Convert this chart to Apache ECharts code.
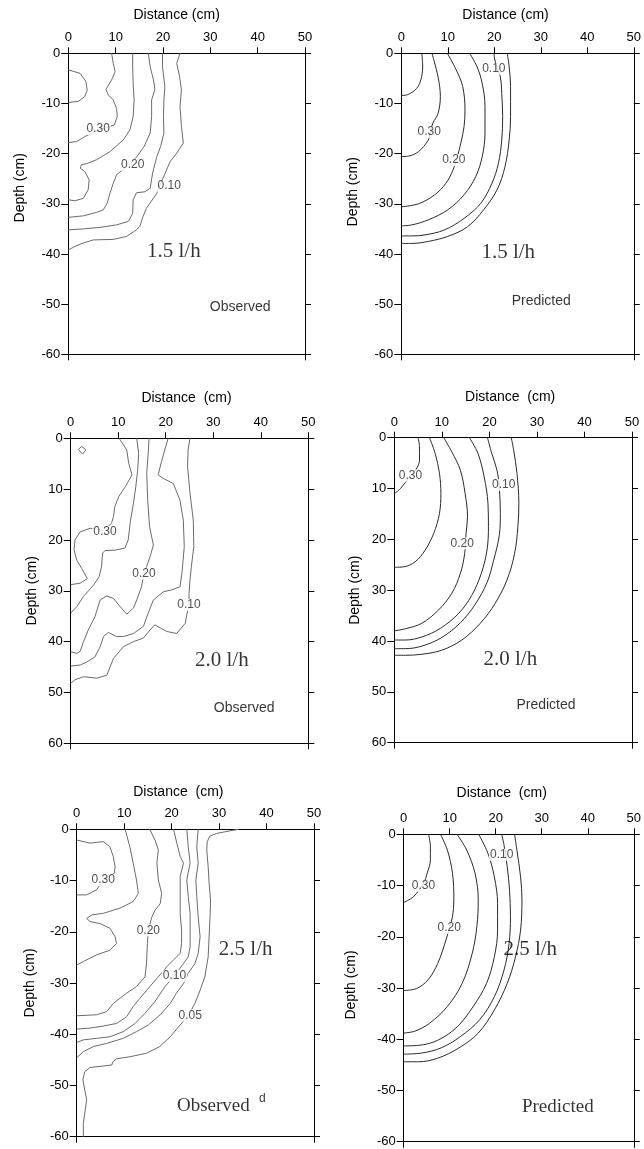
<!DOCTYPE html>
<html><head><meta charset="utf-8">
<script src="https://cdn.jsdelivr.net/npm/echarts@6/dist/echarts.min.js"></script>
<style>html,body{margin:0;padding:0;background:#fff}#c{width:644px;height:1149px}</style>
</head><body><div id="c"></div>
<script>
// ---------- tick values ----------
const distanceTicks = [0, 10, 20, 30, 40, 50];
const depthTicksNeg = [0, -10, -20, -30, -40, -50, -60];
const depthTicksPos = [0, 10, 20, 30, 40, 50, 60];

// ---------- Panel 1: 1.5 l/h observed ----------
const obs15_a = [[0,-3.3],[2.5,-4.0],[3.7,-5.6],[4.0,-7.3],[3.5,-8.6],[2.1,-9.6],[0,-9.8]];
const obs15_b = [[9.15,0],[9.5,-2.0],[9.9,-3.65],[9.15,-5.3],[7.96,-7.2],[8.45,-8.3],[9.5,-9.3],[10.2,-11.0],[10.35,-12.6],[9.7,-14.3],[6.3,-15.3],[3.5,-16.6],[1.76,-17.6],[0,-17.8]];
const obs15_c = [[13.6,0],[13.6,-2.7],[13.7,-6.0],[13.9,-9.3],[13.7,-12.6],[13.0,-15.3],[11.6,-17.3],[8.8,-19.6],[6.0,-21.2],[3.9,-22.0],[2.8,-22.2],[2.5,-22.9],[3.5,-23.6],[4.4,-25.2],[4.2,-27.2],[3.2,-28.9],[1.4,-29.4],[0,-29.2]];
const obs15_d = [[16.9,0],[17.3,-2.7],[18.0,-5.3],[18.3,-7.2],[17.6,-9.3],[17.6,-12.6],[17.3,-15.9],[16.0,-18.6],[14.4,-20.7],[12.6,-22.4],[10.2,-24.2],[9.5,-25.9],[8.8,-27.9],[8.2,-29.9],[7.4,-31.2],[6.0,-31.7],[3.2,-32.4],[0,-32.7]];
const obs15_e = [[19.9,0],[19.9,-2.7],[20.4,-6.6],[20.2,-9.3],[20.1,-12.6],[20.2,-15.9],[19.5,-18.6],[18.7,-20.6],[17.8,-23.9],[17.3,-26.9],[16.2,-27.6],[14.4,-27.8],[13.7,-29.2],[13.6,-31.9],[12.7,-33.5],[10.2,-34.2],[6.7,-34.7],[3.2,-35.0],[0,-35.2]];
const obs15_f = [[23.6,0],[22.9,-2.0],[23.5,-4.6],[23.9,-7.3],[23.6,-10.6],[23.9,-14.6],[24.3,-17.9],[22.9,-19.9],[21.5,-21.6],[20.6,-23.6],[19.6,-25.8],[18.7,-27.9],[16.5,-30.9],[15.8,-32.5],[15.1,-34.5],[14.4,-35.2],[12.3,-36.5],[9.5,-37.1],[5.3,-37.2],[3.2,-37.8],[1.4,-38.5],[0,-39.2]];
const obs15_labels = [['0.30',6.3,-15.1],['0.20',13.6,-22.2],['0.10',21.3,-26.4]];
const obs15_text = [['1.5 l/h',22.3,-39.6],['Observed',36.3,-50.5]];

// ---------- Panel 2: 1.5 l/h predicted ----------
const pre15_a = [[4.4,0],[4.6,-2.7],[4.2,-5.3],[3.3,-7.0],[1.5,-8.2],[0,-8.4]];
const pre15_b = [[6.6,0],[7.9,-4.7],[8.4,-8.6],[7.9,-12.0],[6.8,-13.9],[6.2,-15.7],[5.8,-17.3],[3.7,-19.6],[1.5,-20.5],[0,-20.6]];
const pre15_c = [[9.9,0],[11.8,-3.3],[13.2,-6.6],[13.7,-11.3],[13.5,-14.6],[12.8,-17.9],[12.0,-20.8],[11.1,-23.3],[9.6,-25.9],[7.2,-28.2],[3.7,-30.0],[0,-30.6]];
const pre15_d = [[14.7,0],[16.3,-2.7],[17.4,-6.0],[18.0,-10.6],[18.0,-15.9],[17.4,-20.6],[16.0,-24.6],[13.5,-28.2],[10.0,-31.2],[5.8,-33.2],[2.3,-34.2],[0,-34.4]];
const pre15_e = [[19.9,0],[20.4,-2.5],[21.3,-4.7],[21.6,-8.0],[21.8,-12.6],[21.6,-17.3],[20.9,-21.9],[19.5,-25.9],[17.1,-29.9],[13.5,-32.9],[9.3,-35.2],[5.1,-36.2],[2.3,-36.4],[0,-36.4]];
const pre15_f = [[22.8,0],[23.2,-2.7],[23.5,-6.6],[23.5,-12.6],[23.2,-17.3],[22.3,-22.6],[20.6,-27.2],[17.7,-31.2],[14.2,-34.6],[10.0,-36.5],[5.8,-37.5],[2.3,-37.9],[0,-37.9]];
const pre15_labels = [['0.30',6.0,-15.7],['0.20',11.3,-21.3],['0.10',19.9,-3.1]];
const pre15_text = [['1.5 l/h',23.0,-39.7],['Predicted',30.1,-49.5]];

// ---------- Panel 3: 2.0 l/h observed (depth positive downward) ----------
const obs20_a = [[1.6,2.2],[2.3,1.6],[3.2,2.3],[2.5,3.1],[1.6,2.2]];
const obs20_b = [[10.2,0],[11.8,2.3],[12.2,4.9],[12.9,7.2],[11.5,9.5],[10.1,11.5],[9.3,13.4],[9.0,15.4],[8.6,16.7],[7.0,18.1],[4.1,17.7],[2.0,18.4],[0.9,20.0],[0.7,22.0],[1.3,24.0],[2.3,25.6],[3.5,27.6],[2.0,28.5],[0,28.8]];
const obs20_c = [[13.9,0],[14.3,3.0],[14.1,6.2],[13.7,9.5],[13.2,12.8],[12.6,16.1],[12.1,20.0],[11.4,21.6],[9.3,22.0],[7.2,22.1],[6.7,22.6],[6.5,25.2],[6.0,27.2],[4.8,28.9],[2.7,31.1],[1.3,33.1],[0,34.4]];
const obs20_d = [[16.5,0],[16.3,3.0],[16.0,6.9],[16.2,12.1],[16.6,17.4],[17.4,21.0],[16.7,23.3],[16.0,25.2],[15.4,26.6],[14.9,29.2],[13.9,31.8],[13.2,33.4],[11.8,34.6],[10.4,33.1],[9.0,31.5],[7.6,31.0],[6.2,31.8],[5.1,35.1],[3.7,37.7],[2.7,40.0],[2.0,41.9],[1.3,42.3],[0,42.0]];
const obs20_e = [[20.5,0],[19.8,2.3],[19.1,4.6],[18.4,7.2],[19.5,7.9],[21.6,8.9],[23.0,12.2],[23.7,16.1],[23.9,21.3],[23.4,26.6],[23.0,29.2],[21.3,29.8],[19.5,30.2],[17.4,31.8],[16.3,34.4],[15.3,37.0],[13.2,38.4],[11.1,39.0],[9.7,39.0],[7.9,38.2],[6.9,39.0],[6.2,41.0],[5.1,43.0],[3.4,44.0],[2.0,44.6],[0,44.8]];
const obs20_f = [[25.1,0],[24.7,2.3],[24.6,5.6],[25.1,10.8],[25.8,16.1],[25.9,21.3],[25.4,25.2],[25.1,27.9],[24.9,30.5],[24.9,32.8],[24.4,34.8],[24.1,36.4],[22.3,38.4],[20.2,38.0],[17.7,36.7],[16.7,37.7],[15.3,39.3],[13.2,40.0],[11.1,41.0],[9.0,43.3],[7.6,46.6],[5.5,47.2],[2.7,46.9],[0.9,47.5],[0,48.2]];
const obs20_labels = [['0.30',7.2,18.4],['0.20',15.4,26.6],['0.10',24.9,32.8]];
const obs20_text = [['2.0 l/h',31.8,43.7],['Observed',36.5,53.0]];

// ---------- Panel 4: 2.0 l/h predicted ----------
const pre20_a = [[5.0,0],[5.3,1.8],[5.3,4.4],[4.6,6.2],[3.4,7.5],[1.3,10.0],[0,11.0]];
const pre20_b = [[7.4,0],[8.6,3.1],[9.5,7.0],[9.8,11.0],[9.5,14.9],[8.3,18.8],[6.5,22.1],[4.4,24.4],[2.0,25.4],[0,25.5]];
const pre20_c = [[10.4,0],[12.1,2.8],[13.9,6.4],[14.9,11.0],[15.4,15.5],[15.1,18.8],[14.8,22.8],[13.9,26.7],[12.1,30.6],[9.3,33.9],[5.8,36.5],[2.7,37.5],[0,38.0]];
const pre20_d = [[15.8,0],[17.6,3.1],[18.9,7.7],[19.7,12.9],[19.8,17.5],[19.5,22.1],[18.3,26.7],[16.3,31.0],[13.5,34.6],[9.7,37.5],[5.8,39.2],[2.3,39.8],[0,39.8]];
const pre20_e = [[19.6,0],[20.5,3.1],[21.6,6.4],[22.1,10.0],[22.3,14.9],[22.1,19.1],[20.9,24.1],[19.5,28.5],[17.0,32.8],[13.9,36.4],[10.0,39.3],[5.8,41.0],[2.3,41.5],[0,41.5]];
const pre20_f = [[24.6,0],[25.1,2.4],[25.8,7.0],[26.2,12.9],[26.0,17.5],[25.3,22.8],[23.7,28.0],[21.2,32.6],[18.1,36.5],[14.2,39.8],[10.0,41.8],[5.8,42.6],[2.3,42.8],[0,42.8]];
const pre20_labels = [['0.30',3.4,7.5],['0.20',14.3,20.8],['0.10',23.0,9.3]];
const pre20_text = [['2.0 l/h',24.4,43.7],['Predicted',31.9,52.7]];

// ---------- Panel 5: 2.5 l/h observed ----------
const obs25_a = [[0,-2.1],[2.8,-2.7],[5.6,-2.4],[7.0,-3.4],[7.7,-5.3],[8.1,-7.3],[7.9,-8.6],[5.6,-9.9],[4.2,-11.8],[2.1,-12.8],[0,-12.8]];
const obs25_b = [[10.2,0],[11.2,-3.4],[11.9,-6.6],[12.6,-9.9],[13.0,-12.5],[11.9,-14.1],[9.1,-15.4],[5.6,-16.4],[3.2,-16.7],[2.1,-17.4],[2.8,-18.0],[4.9,-18.4],[7.0,-19.3],[8.1,-21.0],[8.4,-22.3],[7.0,-23.6],[4.2,-24.5],[1.4,-25.8],[0,-26.5]];
const obs25_c = [[15.4,0],[16.5,-2.1],[17.2,-4.0],[16.9,-6.6],[17.2,-9.9],[17.9,-12.5],[17.6,-14.5],[16.5,-15.8],[15.8,-17.2],[15.1,-19.7],[14.9,-22.3],[14.7,-26.2],[14.4,-28.8],[12.6,-30.7],[10.5,-32.0],[7.7,-34.0],[6.3,-35.6],[4.2,-36.2],[0,-36.4]];
const obs25_d = [[20.4,0],[21.1,-2.7],[21.8,-5.3],[22.5,-6.6],[21.8,-9.2],[21.8,-13.2],[21.8,-16.4],[22.1,-19.7],[22.1,-22.3],[21.8,-24.2],[20.4,-25.5],[19.0,-26.8],[17.2,-28.8],[15.4,-30.7],[13.3,-33.0],[11.9,-34.6],[10.5,-36.6],[8.4,-37.9],[5.6,-38.4],[2.8,-38.8],[0,-39.0]];
const obs25_e = [[23.2,0],[23.5,-3.4],[23.9,-6.6],[23.2,-9.9],[23.5,-13.1],[23.9,-16.4],[23.9,-19.7],[23.9,-22.9],[23.5,-24.9],[22.5,-26.2],[20.6,-28.6],[18.6,-30.7],[16.5,-33.6],[14.4,-35.9],[12.3,-37.9],[9.8,-39.5],[7.0,-40.5],[4.2,-40.8],[1.4,-41.1],[0,-41.6]];
const obs25_f = [[25.6,0],[25.3,-3.4],[25.6,-6.6],[25.1,-9.9],[25.3,-13.1],[25.6,-17.1],[26.0,-21.0],[25.6,-24.2],[24.9,-26.2],[23.5,-28.1],[22.5,-30.1],[21.0,-32.0],[19.7,-34.0],[17.6,-36.2],[15.1,-38.2],[12.6,-39.5],[9.8,-40.8],[6.3,-41.8],[3.5,-42.4],[1.4,-43.4],[0,-44.6]];
const obs25_g = [[34.1,0],[32.3,-0.3],[29.5,-0.8],[28.1,-1.3],[27.5,-2.4],[27.4,-4.0],[27.7,-7.3],[27.9,-10.5],[28.2,-13.8],[28.1,-17.0],[27.9,-20.9],[27.7,-24.9],[27.0,-28.8],[26.0,-31.4],[24.9,-34.0],[23.6,-36.2],[21.8,-38.2],[19.7,-40.5],[17.5,-42.4],[14.7,-43.7],[11.2,-44.4],[8.4,-44.8],[7.6,-45.4],[7.4,-46.0],[5.6,-46.2],[2.8,-46.5],[1.7,-47.3],[1.3,-48.9],[1.7,-50.9],[2.1,-52.8],[1.7,-55.4],[1.4,-57.4],[1.4,-60]];
const obs25_labels = [['0.30',5.6,-9.9],['0.20',15.1,-19.7],['0.10',20.6,-28.6],['0.05',23.9,-36.3]];
const obs25_text = [['2.5 l/h',35.6,-23.4],['Observed',28.8,-54.1],['d',39.1,-52.5]];

// ---------- Panel 6: 2.5 l/h predicted ----------
const pre25_a = [[5.4,0],[5.8,-2.4],[5.8,-5.0],[5.1,-7.6],[4.3,-9.6],[2.1,-12.2],[0,-13.3]];
const pre25_b = [[8.0,0],[9.5,-3.1],[10.6,-7.6],[10.9,-12.8],[10.6,-16.1],[9.9,-18.3],[9.2,-20.6],[7.4,-25.2],[5.3,-28.4],[2.8,-30.1],[0,-30.5]];
const pre25_c = [[11.6,0],[13.7,-3.1],[15.5,-7.6],[16.2,-12.8],[15.9,-18.0],[14.9,-23.2],[12.7,-29.1],[9.5,-33.6],[5.6,-36.9],[2.5,-38.4],[0,-38.8]];
const pre25_d = [[16.3,0],[18.3,-3.7],[19.7,-8.3],[20.4,-13.5],[20.4,-18.7],[19.7,-23.9],[18.0,-29.1],[15.1,-33.6],[11.6,-37.6],[7.4,-40.2],[3.2,-41.2],[0,-41.3]];
const pre25_e = [[21.3,0],[21.8,-2.1],[22.5,-6.3],[23.0,-10.9],[23.2,-16.1],[22.9,-21.3],[21.8,-26.5],[19.7,-31.7],[16.5,-36.2],[12.3,-39.5],[8.1,-41.7],[3.9,-42.7],[0,-42.9]];
const pre25_f = [[24.1,0],[24.6,-3.1],[25.4,-8.3],[25.7,-12.8],[25.4,-18.7],[24.3,-23.9],[22.5,-29.1],[19.7,-34.3],[16.2,-38.8],[12.0,-41.7],[7.4,-43.7],[3.2,-44.4],[0,-44.4]];
const pre25_labels = [['0.30',4.3,-10.1],['0.20',9.9,-18.3],['0.10',21.3,-4.0]];
const pre25_text = [['2.5 l/h',27.5,-22.4],['Predicted',33.5,-53.3]];

// ---------- assembly ----------
const SANS = 'Liberation Sans, Arial, sans-serif';
const SERIF = 'Liberation Serif, Times New Roman, serif';
const OBS = '#6b6b6b', PRE = '#2a2a2a';

const panels = [
  {lines:[obs15_a,obs15_b,obs15_c,obs15_d,obs15_e,obs15_f], labels:obs15_labels, text:obs15_text, color:OBS, smooth:false, neg:true,
   box:{left:68.3,top:53.3,width:236.7,height:301}, dName:'Distance (cm)', dGap:31, dPad:[0,20,0,0], zGap:41, zPad:[0,0,0,32], serifNote:false},
  {lines:[pre15_a,pre15_b,pre15_c,pre15_d,pre15_e,pre15_f], labels:pre15_labels, text:pre15_text, color:PRE, smooth:0.35, neg:true,
   box:{left:401.3,top:53.3,width:236.7,height:301}, dName:'Distance (cm)', dGap:31, dPad:[0,24,0,0], zGap:41, zPad:[0,0,0,24], serifNote:false},
  {lines:[obs20_a,obs20_b,obs20_c,obs20_d,obs20_e,obs20_f], labels:obs20_labels, text:obs20_text, color:OBS, smooth:false, neg:false,
   box:{left:70.7,top:438.3,width:237.6,height:305}, dName:'Distance  (cm)', dGap:33, dPad:[0,6,0,0], zGap:32, zPad:[0,0,0,0], serifNote:false},
  {lines:[pre20_a,pre20_b,pre20_c,pre20_d,pre20_e,pre20_f], labels:pre20_labels, text:pre20_text, color:PRE, smooth:0.35, neg:false,
   box:{left:394.3,top:437.7,width:237.7,height:305}, dName:'Distance  (cm)', dGap:34, dPad:[0,6,0,0], zGap:32, zPad:[0,0,0,0], serifNote:false},
  {lines:[obs25_a,obs25_b,obs25_c,obs25_d,obs25_e,obs25_f,obs25_g], labels:obs25_labels, text:obs25_text, color:OBS, smooth:false, neg:true,
   box:{left:76.7,top:829.3,width:237.3,height:307.4}, dName:'Distance  (cm)', dGap:30, dPad:[0,34,0,0], zGap:40, zPad:[0,0,0,0], serifNote:true},
  {lines:[pre25_a,pre25_b,pre25_c,pre25_d,pre25_e,pre25_f], labels:pre25_labels, text:pre25_text, color:PRE, smooth:0.35, neg:true,
   box:{left:403.7,top:834.3,width:236.6,height:307.4}, dName:'Distance  (cm)', dGap:34, dPad:[0,34,0,0], zGap:46, zPad:[0,0,0,6], serifNote:true}
];

const grid = [], xAxis = [], yAxis = [], series = [];
const axisLineStyle = {show:true, onZero:false, lineStyle:{color:'#000', width:1}};
panels.forEach((p, i) => {
  grid.push(Object.assign({containLabel:false}, p.box));
  xAxis.push({type:'value', gridIndex:i, position:'top', min:distanceTicks[0], max:distanceTicks[distanceTicks.length-1], interval:10,
    name:p.dName, nameLocation:'middle', nameGap:p.dGap,
    nameTextStyle:{fontFamily:SANS, fontSize:14, color:'#000', padding:p.dPad},
    axisLine:axisLineStyle, axisTick:{show:true, length:6, lineStyle:{color:'#000'}},
    axisLabel:{fontFamily:SANS, fontSize:13, color:'#000', margin:9}, splitLine:{show:false}});
  xAxis.push({type:'value', gridIndex:i, position:'bottom', min:0, max:50, interval:50,
    axisLine:axisLineStyle, axisTick:{show:true, length:6, lineStyle:{color:'#000'}},
    axisLabel:{show:false}, splitLine:{show:false}});
  const yr = p.neg ? {min:-60, max:0, inverse:false} : {min:0, max:60, inverse:true};
  yAxis.push(Object.assign({type:'value', gridIndex:i, position:'left', interval:10,
    name:'Depth (cm)', nameLocation:'middle', nameGap:p.zGap,
    nameTextStyle:{fontFamily:SANS, fontSize:14, color:'#000', padding:p.zPad},
    axisLine:axisLineStyle, axisTick:{show:true, length:7, lineStyle:{color:'#000'}},
    axisLabel:{fontFamily:SANS, fontSize:13, color:'#000', margin:8}, splitLine:{show:false}}, yr));
  yAxis.push(Object.assign({type:'value', gridIndex:i, position:'right', interval:10,
    axisLine:axisLineStyle, axisTick:{show:true, length:6, lineStyle:{color:'#000'}},
    axisLabel:{show:false}, splitLine:{show:false}}, yr));

  p.lines.forEach(pts => series.push({type:'line', xAxisIndex:2*i, yAxisIndex:2*i, data:pts,
    showSymbol:false, symbol:'none', smooth:p.smooth, silent:true, z:2,
    lineStyle:{color:p.color, width:1}}));

  series.push({type:'scatter', xAxisIndex:2*i, yAxisIndex:2*i, symbolSize:1, silent:true, z:5,
    itemStyle:{color:'rgba(0,0,0,0)'},
    data:p.labels.map(l => ({name:l[0], value:[l[1], l[2]]})),
    label:{show:true, position:'inside', formatter:q => q.name, fontFamily:SANS, fontSize:12, color:'#222',
      backgroundColor:'#fff', padding:[0,1]}});

  const rate = p.text[0];
  series.push({type:'scatter', xAxisIndex:2*i, yAxisIndex:2*i, symbolSize:1, silent:true, z:6,
    itemStyle:{color:'rgba(0,0,0,0)'},
    data:[{name:rate[0], value:[rate[1], rate[2]]}],
    label:{show:true, position:'inside', formatter:q => q.name, fontFamily:SERIF, fontSize:21, color:'#000'}});
  const note = p.text[1];
  series.push({type:'scatter', xAxisIndex:2*i, yAxisIndex:2*i, symbolSize:1, silent:true, z:6,
    itemStyle:{color:'rgba(0,0,0,0)'},
    data:[{name:note[0], value:[note[1], note[2]]}],
    label:{show:true, position:'inside', formatter:q => q.name,
      fontFamily:p.serifNote ? SERIF : SANS, fontSize:p.serifNote ? 19 : 14, color:'#000'}});
  if (p.text[2]) {
    const sup = p.text[2];
    series.push({type:'scatter', xAxisIndex:2*i, yAxisIndex:2*i, symbolSize:1, silent:true, z:6,
      itemStyle:{color:'rgba(0,0,0,0)'},
      data:[{name:sup[0], value:[sup[1], sup[2]]}],
      label:{show:true, position:'inside', formatter:q => q.name, fontFamily:SANS, fontSize:12, color:'#000'}});
  }
});

const chart = echarts.init(document.getElementById('c'), null, {renderer:'canvas'});
chart.setOption({animation:false, backgroundColor:'#fff', grid, xAxis, yAxis, series});
</script>
</body></html>
